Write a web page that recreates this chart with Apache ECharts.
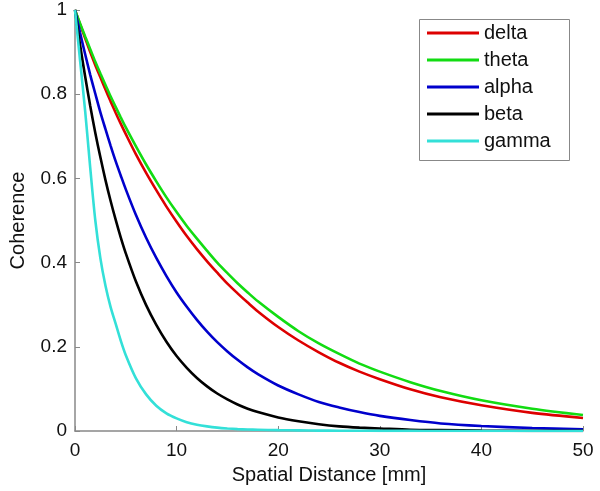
<!DOCTYPE html>
<html>
<head>
<meta charset="utf-8">
<script src="https://cdn.jsdelivr.net/npm/echarts@6/dist/echarts.min.js"></script>
<style>html,body{margin:0;padding:0;background:#fff;}#c{width:600px;height:491px;}</style>
</head>
<body>
<div id="c"></div>
<script>
var distances = [0,0.5,1,1.5,2,2.5,3,3.5,4,4.5,5,6,7,8,9,10,11,12,13,14,15,16,17,18,20,22,24,26,28,30,33,36,40,45,50];
var seriesNames = ['delta','theta','alpha','beta','gamma'];
var delta = [1,0.966,0.933,0.900,0.869,0.840,0.811,0.783,0.756,0.730,0.705,0.657,0.613,0.572,0.533,0.497,0.463,0.432,0.403,0.376,0.350,0.327,0.305,0.284,0.247,0.215,0.187,0.162,0.141,0.123,0.099,0.080,0.061,0.043,0.031];
var theta = [1,0.968,0.937,0.907,0.877,0.849,0.822,0.795,0.770,0.745,0.721,0.676,0.633,0.593,0.555,0.520,0.487,0.457,0.428,0.400,0.375,0.351,0.329,0.308,0.271,0.237,0.208,0.183,0.160,0.141,0.116,0.095,0.073,0.053,0.038];
var alpha = [1,0.946,0.895,0.846,0.801,0.757,0.717,0.678,0.641,0.607,0.574,0.513,0.459,0.411,0.368,0.329,0.295,0.264,0.236,0.211,0.189,0.169,0.151,0.135,0.108,0.087,0.069,0.056,0.045,0.036,0.026,0.018,0.012,0.007,0.004];
var beta  = [1,0.917,0.842,0.772,0.708,0.650,0.596,0.547,0.502,0.460,0.422,0.355,0.299,0.252,0.212,0.178,0.150,0.126,0.106,0.089,0.075,0.063,0.053,0.045,0.032,0.023,0.016,0.011,0.008,0.006,0.003,0.002,0.001,0.0004,0.0002];
var gamma = [1,0.88,0.76,0.625,0.50,0.41,0.345,0.295,0.255,0.215,0.18,0.125,0.087,0.06,0.042,0.03,0.021,0.015,0.011,0.008,0.006,0.0045,0.0035,0.003,0.002,0.0015,0.001,0.0007,0.0005,0.0004,0.0002,0.0001,0,0,0];
var xTicks = ['0','10','20','30','40','50'];
var colors = ['#dd0000','#12dc12','#0000cc','#000000','#33e0d8'];

var values = [delta, theta, alpha, beta, gamma];
function pairs(arr){ return distances.map(function(x,i){ return [x, arr[i]]; }); }

var chart = echarts.init(document.getElementById('c'), null, {renderer:'canvas'});
var font = '"Liberation Sans", Arial, Helvetica, sans-serif';
chart.setOption({
  animation: false,
  backgroundColor: '#ffffff',
  textStyle: {fontFamily: font},
  grid: {left: 71, right: 17, top: 10, bottom: 60, containLabel: false},
  xAxis: {
    type: 'value', min: 0, max: 50, interval: 10,
    name: 'Spatial Distance [mm]', nameLocation: 'middle', nameGap: 34,
    nameTextStyle: {fontSize: 20, color: '#111', fontFamily: font},
    axisLine: {show: true, lineStyle: {color: '#888', width: 1.5}},
    axisTick: {show: true, inside: true, length: 5, lineStyle: {color: '#888'}},
    axisLabel: {fontSize: 19, color: '#111', margin: 10, fontFamily: font,
      formatter: function(v){ var i = Math.round(v/10); return xTicks[i] !== undefined ? xTicks[i] : String(v); }},
    splitLine: {show: false}
  },
  yAxis: {
    type: 'value', min: 0, max: 1, interval: 0.2,
    name: 'Coherence', nameLocation: 'middle', nameGap: 47,
    nameTextStyle: {fontSize: 20, color: '#111', fontFamily: font},
    axisLine: {show: true, lineStyle: {color: '#888', width: 1.5}},
    axisTick: {show: true, inside: true, length: 5, lineStyle: {color: '#888'}},
    axisLabel: {fontSize: 19, color: '#111', margin: 8, fontFamily: font},
    splitLine: {show: false}
  },
  legend: {
    orient: 'vertical', left: 427, top: 23, padding: 0,
    itemWidth: 52, itemHeight: 3, itemGap: 7, icon: 'rect',
    textStyle: {fontSize: 20, color: '#111', lineHeight: 20, fontFamily: font},
    data: seriesNames
  },
  graphic: [{
    type: 'rect', left: 417, top: 17, z: 100, silent: true,
    shape: {width: 150, height: 141},
    style: {fill: 'none', stroke: '#888', lineWidth: 1}
  }],
  series: seriesNames.map(function(n, i){
    return {
      name: n, type: 'line', data: pairs(values[i]), smooth: 0.3,
      showSymbol: false, symbol: 'none',
      itemStyle: {color: colors[i]},
      lineStyle: {color: colors[i], width: 2.6}
    };
  })
});
</script>
</body>
</html>
